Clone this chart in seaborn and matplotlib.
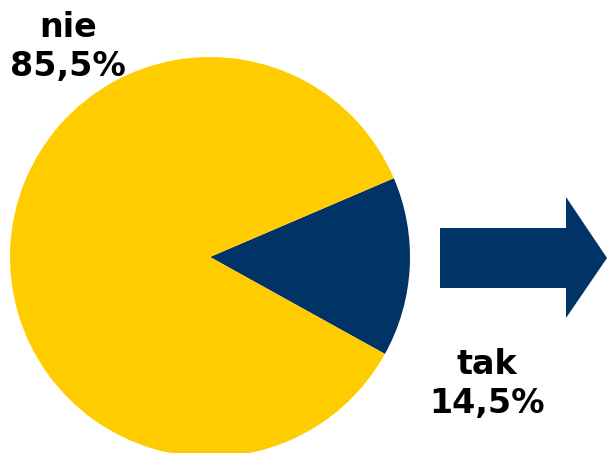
import matplotlib
matplotlib.use("Agg")
import matplotlib.pyplot as plt
from matplotlib.patches import Polygon
import seaborn as sns

categories = ["tak", "nie"]
values = [14.5, 85.5]
labels = ["tak\n14,5%", "nie\n85,5%"]
colors = ["#003366", "#FFCC00"]

sns.set_style("white")
plt.rcParams['font.family'] = ['DejaVu Sans']

W, H = 607, 453
fig = plt.figure(figsize=(W / 100, H / 100), dpi=100)
ax = fig.add_axes([0, 0, 1, 1])

cx, cy, r = 210, H - 257, 200
ax.pie(values, colors=colors, startangle=-29, counterclock=True,
       center=(cx, cy), radius=r, frame=True,
       wedgeprops=dict(linewidth=0))

# arrow
arrow = [(440, H - 228), (566, H - 228), (566, H - 197), (607, H - 258),
         (566, H - 318), (566, H - 288), (440, H - 288)]
ax.add_patch(Polygon(arrow, closed=True, facecolor="#003366", edgecolor="none"))

ax.text(68, H - 47, labels[1], ha="center", va="center", fontsize=24,
        fontweight="bold", color="black", linespacing=1.25)
ax.text(487, H - 384, labels[0], ha="center", va="center", fontsize=24,
        fontweight="bold", color="black", linespacing=1.25)

ax.set_xlim(0, W)
ax.set_ylim(0, H)
ax.set_aspect("equal")
ax.axis("off")
fig.savefig("out.png", dpi=100)
